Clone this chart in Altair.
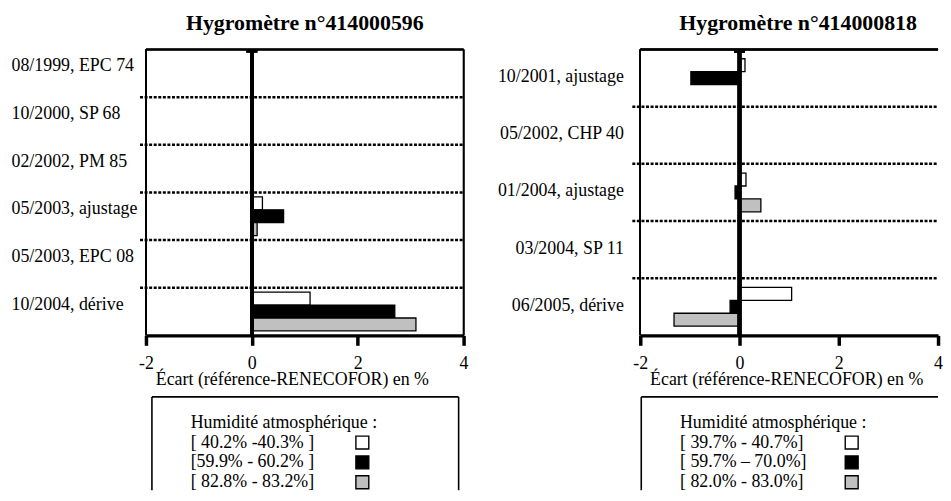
import altair as alt
import pandas as pd

FONT = "Liberation Serif"

# ---------------- data ----------------
left_title = "Hygromètre n°414000596"
left_categories = ["08/1999, EPC 74", "10/2000, SP 68", "02/2002, PM 85",
                   "05/2003, ajustage", "05/2003, EPC 08", "10/2004, dérive"]
left_series = ["[ 40.2% -40.3% ]", "[59.9% - 60.2% ]", "[ 82.8% - 83.2%]"]
left_bar_cats = ["05/2003, ajustage"] * 3 + ["10/2004, dérive"] * 3
left_bar_series = left_series + left_series
left_bar_values = [0.2, 0.6, 0.1, 1.1, 2.7, 3.1]

right_title = "Hygromètre n°414000818"
right_categories = ["10/2001, ajustage", "05/2002, CHP 40", "01/2004, ajustage",
                    "03/2004, SP 11", "06/2005, dérive"]
right_series = ["[ 39.7% - 40.7%]", "[ 59.7% – 70.0%]", "[ 82.0% - 83.0%]"]
right_bar_cats = ["10/2001, ajustage"] * 2 + ["01/2004, ajustage"] * 3 + ["06/2005, dérive"] * 3
right_bar_series = right_series[:2] + right_series + right_series
right_bar_values = [0.11, -0.98, 0.13, -0.09, 0.43, 1.05, -0.19, -1.32]

legend_heading = "Humidité atmosphérique :"
x_title = "Écart (référence-RENECOFOR) en %"
x_ticks = [-2, 0, 2, 4]
fills = ["white", "black", "#c0c0c0"]

PH = 288
LH = 94


def panel(title, title_dx, cats, series, bar_cats, bar_series, bar_values, pw,
          label_align, label_pad, label_offset, grid_left, bar_pad,
          box_left, box_w, right_border):
    bars_df = pd.DataFrame({"cat": bar_cats, "series": bar_series, "value": bar_values})
    sep_df = pd.DataFrame({"cat": cats[1:]})

    yaxis = alt.Axis(title=None, labelAlign=label_align, labelPadding=label_pad,
                     labelOffset=label_offset, labelFont=FONT, labelFontSize=18,
                     labelColor="black", labelLimit=0, ticks=False, tickSize=0,
                     domain=False, grid=False, labelBaseline="middle")
    yscale = alt.Scale(domain=cats, paddingInner=0, paddingOuter=0)
    xscale = alt.Scale(domain=[-2, 4], nice=False, zero=False)
    xaxis = alt.Axis(values=x_ticks, title=x_title, grid=False,
                     labelExpr="'' + datum.value",
                     domainColor="black", domainWidth=3.5,
                     tickColor="black", tickWidth=3.5, tickSize=10,
                     labelFont=FONT, labelFontSize=18, labelColor="black",
                     labelPadding=9, labelFlush=False, labelOverlap=False,
                     titleFont=FONT, titleFontSize=18, titleFontWeight="normal",
                     titleColor="black", titleX=147, titleY=49,
                     titleAlign="center", titleBaseline="alphabetic")
    fill_scale = alt.Scale(domain=series, range=fills)

    seps = alt.Chart(sep_df).mark_rule(color="black", strokeWidth=2.5,
                                       strokeDash=[3, 1.6]).encode(
        y=alt.Y("cat:N", sort=cats, scale=yscale, axis=yaxis, bandPosition=0),
        x=alt.value(grid_left), x2=alt.value(pw),
    )
    bars = alt.Chart(bars_df).mark_bar(stroke="black", strokeWidth=1.3).encode(
        y=alt.Y("cat:N", sort=cats, scale=yscale, axis=yaxis),
        x=alt.X("value:Q", scale=xscale, axis=xaxis),
        yOffset=alt.YOffset("series:N", sort=series,
                            scale=alt.Scale(domain=series, paddingInner=0,
                                            paddingOuter=bar_pad)),
        fill=alt.Fill("series:N", scale=fill_scale, legend=None),
    )
    zero = alt.Chart(bars_df).mark_rule(color="black", strokeWidth=3.5).encode(
        x=alt.datum(0, type="quantitative"))
    cap = alt.Chart(bars_df).mark_tick(color="black", orient="horizontal",
                                       size=11, thickness=3).encode(
        x=alt.datum(0, type="quantitative"), y=alt.value(1.5))
    top_border = alt.Chart(bars_df).mark_rule(color="black", strokeWidth=1.3).encode(
        y=alt.value(0))
    left_border = alt.Chart(bars_df).mark_rule(color="black", strokeWidth=1.3).encode(
        x=alt.value(0))
    layers = [seps, top_border, left_border]
    if right_border:
        layers.append(alt.Chart(bars_df).mark_rule(color="black", strokeWidth=1.3)
                      .encode(x=alt.value(pw)))
    layers += [bars, zero, cap]

    plot = alt.layer(*layers).properties(
        width=pw, height=PH,
        view=alt.ViewBackground(stroke="transparent"),
        title=alt.TitleParams(title, font=FONT, fontSize=22, fontWeight="bold",
                              color="black", anchor="middle", frame="group",
                              baseline="alphabetic", offset=-4, dx=title_dx),
    )

    rows = ["heading"] + series
    text_df = pd.DataFrame({"row": rows, "label": [legend_heading] + series})
    sq_df = pd.DataFrame({"row": series, "series": series})
    yleg = alt.Y("row:N", sort=rows, axis=None,
                 scale=alt.Scale(type="point", domain=rows, range=[26, 86], padding=0))
    one = text_df.head(1)
    box_layers = [
        alt.Chart(one).mark_rule(color="black", strokeWidth=1.6).encode(
            x=alt.value(box_left), x2=alt.value(box_left + box_w), y=alt.value(0)),
        alt.Chart(one).mark_rule(color="black", strokeWidth=1.6).encode(
            x=alt.value(box_left), y=alt.value(0), y2=alt.value(LH)),
    ]
    if right_border:
        box_layers.append(alt.Chart(one).mark_rule(color="black", strokeWidth=1.6).encode(
            x=alt.value(box_left + box_w), y=alt.value(0), y2=alt.value(LH)))
    texts = alt.Chart(text_df).mark_text(align="left", baseline="middle", font=FONT,
                                         fontSize=18, color="black").encode(
        x=alt.value(box_left + 39), y=yleg, text="label:N")
    squares = alt.Chart(sq_df).mark_square(size=169, stroke="black", strokeWidth=1.4,
                                           opacity=1).encode(
        x=alt.value(box_left + 212), y=yleg,
        fill=alt.Fill("series:N", scale=fill_scale, legend=None))
    legend = alt.layer(*box_layers, texts, squares).properties(
        width=pw, height=LH, view=alt.ViewBackground(stroke="transparent"))

    return alt.vconcat(plot, legend, spacing=6).resolve_scale(
        x="independent", y="independent")


left = panel(left_title, 0, left_categories, left_series, left_bar_cats, left_bar_series,
             left_bar_values, 320, "left", 136, -7, -6, 0.346, 6, 309, True)
right = panel(right_title, 9, right_categories, right_series, right_bar_cats,
              right_bar_series, right_bar_values, 300, "right", 17, -1, -8, 0.715, 1,
              299, False)

chart = alt.hconcat(left, right, spacing=28).resolve_scale(
    x="independent", y="independent", fill="independent", yOffset="independent"
).properties(
    padding={"left": 2, "top": 1, "right": 0, "bottom": 0}
).configure(font=FONT)

chart.save("out.html", embed_options={"renderer": "svg", "actions": False})
